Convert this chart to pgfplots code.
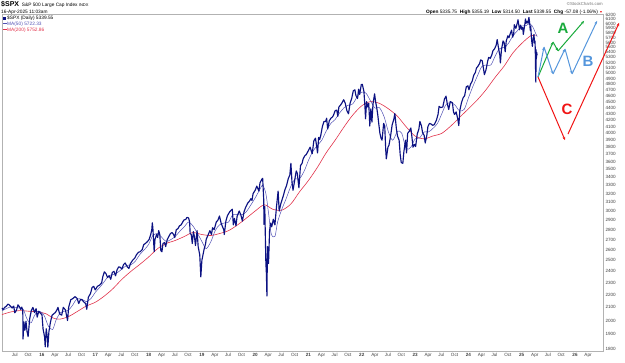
\documentclass[border=0pt]{standalone}
\usepackage{pgfplots}
\pgfplotsset{compat=1.18}
\usepackage{fontspec}
\setmainfont{Liberation Sans}
\usetikzlibrary{arrows.meta}
\definecolor{price}{RGB}{12,18,130}
\definecolor{maf}{RGB}{80,80,180}
\definecolor{mas}{RGB}{225,50,75}
\definecolor{ga}{RGB}{25,170,60}
\definecolor{bb}{RGB}{85,150,220}
\definecolor{rc}{RGB}{240,20,20}
\begin{document}
\begin{tikzpicture}[x=1pt,y=1pt]
\useasboundingbox (0,0) rectangle (625,363);
\begin{axis}[
  at={(2pt,12pt)}, anchor=south west,
  scale only axis, width=601pt, height=337pt,
  ymode=log, clip=false,
  xmin=2015.25, xmax=2026.525,
  ymin=1787, ymax=6223,
  axis line style={draw=gray!60, line width=0.4pt},
  major tick length=0pt,
  /pgf/number format/assume math mode=true,
  ticklabel style={font=\fontsize{4.6}{5}\selectfont, text=black!75},
  yticklabel pos=right,
  yticklabel style={xshift=-1pt},
  xticklabel style={yshift=1.5pt},
  ytick={1800,1900,2000,2100,2200,2300,2400,2500,2600,2700,2800,2900,3000,3100,3200,3300,3400,3500,3600,3700,3800,3900,4000,4100,4200,4300,4400,4500,4600,4700,4800,4900,5000,5100,5200,5300,5400,5500,5600,5700,5800,5900,6000,6100,6200},
  yticklabels={1800,1900,2000,2100,2200,2300,2400,2500,2600,2700,2800,2900,3000,3100,3200,3300,3400,3500,3600,3700,3800,3900,4000,4100,4200,4300,4400,4500,4600,4700,4800,4900,5000,5100,5200,5300,5400,5500,5600,5700,5800,5900,6000,6100,6200},
  xtick={2015.49,2015.74,2016,2016.245,2016.49,2016.74,2017,2017.245,2017.49,2017.74,2018,2018.245,2018.49,2018.74,2019,2019.245,2019.49,2019.74,2020,2020.245,2020.49,2020.74,2021,2021.245,2021.49,2021.74,2022,2022.245,2022.49,2022.74,2023,2023.245,2023.49,2023.74,2024,2024.245,2024.49,2024.74,2025,2025.245,2025.49,2025.74,2026,2026.245},
  xticklabels={Jul,Oct,\textbf{16},Apr,Jul,Oct,\textbf{17},Apr,Jul,Oct,\textbf{18},Apr,Jul,Oct,\textbf{19},Apr,Jul,Oct,\textbf{20},Apr,Jul,Oct,\textbf{21},Apr,Jul,Oct,\textbf{22},Apr,Jul,Oct,\textbf{23},Apr,Jul,Oct,\textbf{24},Apr,Jul,Oct,\textbf{25},Apr,Jul,Oct,\textbf{26},Apr},
]
% MA(200)
\addplot[mas, line width=0.6pt, smooth] coordinates {
(2015.25,2045) (2015.42,2065) (2015.58,2075) (2015.75,2070) (2015.92,2065) (2016.08,2050) (2016.20,2020) (2016.33,2010) (2016.50,2030) (2016.67,2070) (2016.83,2110) (2017.00,2140) (2017.17,2190) (2017.33,2250) (2017.50,2330) (2017.67,2400) (2017.83,2460) (2018.00,2530) (2018.17,2610) (2018.33,2660) (2018.50,2690) (2018.67,2730) (2018.83,2770) (2019.00,2750) (2019.17,2740) (2019.33,2760) (2019.50,2790) (2019.67,2850) (2019.83,2920) (2020.00,3000) (2020.17,3070) (2020.33,3020) (2020.50,3010) (2020.67,3080) (2020.83,3220) (2021.00,3360) (2021.17,3530) (2021.33,3720) (2021.50,3900) (2021.67,4100) (2021.83,4280) (2022.00,4430) (2022.17,4500) (2022.33,4470) (2022.50,4380) (2022.67,4260) (2022.83,4100) (2023.00,3960) (2023.17,3920) (2023.33,3960) (2023.50,4000) (2023.67,4110) (2023.83,4240) (2024.00,4380) (2024.17,4530) (2024.33,4700) (2024.50,4920) (2024.67,5130) (2024.83,5380) (2025.00,5580) (2025.17,5740) (2025.29,5753)
};
% MA(50)
\addplot[maf, line width=0.5pt, smooth] coordinates {
(2015.25,2075) (2015.33,2090) (2015.42,2105) (2015.50,2100) (2015.58,2095) (2015.65,2085) (2015.70,2030) (2015.75,1990) (2015.80,1985) (2015.85,2030) (2015.92,2070) (2016.00,2060) (2016.05,2030) (2016.12,1960) (2016.20,1935) (2016.27,2010) (2016.35,2060) (2016.42,2070) (2016.50,2080) (2016.58,2120) (2016.65,2165) (2016.75,2165) (2016.83,2145) (2016.92,2170) (2017.00,2220) (2017.08,2260) (2017.17,2310) (2017.25,2360) (2017.33,2370) (2017.42,2390) (2017.50,2420) (2017.58,2450) (2017.67,2460) (2017.75,2490) (2017.83,2550) (2017.92,2600) (2018.00,2650) (2018.08,2740) (2018.17,2760) (2018.25,2720) (2018.33,2680) (2018.42,2700) (2018.50,2730) (2018.58,2780) (2018.67,2830) (2018.75,2880) (2018.83,2840) (2018.92,2760) (2019.00,2680) (2019.08,2610) (2019.17,2680) (2019.25,2790) (2019.33,2850) (2019.42,2870) (2019.50,2880) (2019.58,2960) (2019.67,2960) (2019.75,2960) (2019.83,2990) (2019.92,3070) (2020.00,3150) (2020.08,3240) (2020.14,3300) (2020.20,3200) (2020.25,2980) (2020.30,2760) (2020.37,2730) (2020.42,2880) (2020.50,3020) (2020.58,3140) (2020.67,3290) (2020.75,3380) (2020.83,3380) (2020.92,3480) (2021.00,3620) (2021.08,3740) (2021.17,3830) (2021.25,3900) (2021.33,4030) (2021.42,4150) (2021.50,4210) (2021.58,4310) (2021.67,4400) (2021.75,4440) (2021.83,4460) (2021.92,4590) (2022.00,4660) (2022.08,4640) (2022.17,4500) (2022.25,4390) (2022.33,4400) (2022.42,4250) (2022.50,4020) (2022.58,3900) (2022.67,4030) (2022.75,4000) (2022.83,3780) (2022.92,3800) (2023.00,3920) (2023.08,3930) (2023.17,4020) (2023.25,4020) (2023.33,4070) (2023.42,4150) (2023.50,4300) (2023.58,4450) (2023.67,4480) (2023.75,4440) (2023.83,4350) (2023.92,4370) (2024.00,4560) (2024.08,4750) (2024.17,4950) (2024.25,5120) (2024.33,5150) (2024.42,5150) (2024.50,5320) (2024.58,5470) (2024.67,5500) (2024.75,5580) (2024.83,5730) (2024.92,5850) (2025.00,5950) (2025.08,5960) (2025.14,6000) (2025.20,5950) (2025.25,5820) (2025.29,5722)
};
% Price
\addplot[price, line width=1.15pt, line join=round] coordinates {
(2015.25,2095) (2015.27,2082) (2015.30,2100) (2015.33,2108) (2015.36,2125) (2015.38,2122) (2015.41,2108) (2015.44,2095) (2015.47,2110) (2015.49,2058) (2015.52,2077) (2015.55,2120) (2015.58,2103) (2015.60,2085) (2015.62,2102) (2015.64,2075) (2015.645,1868) (2015.66,1990) (2015.68,1930) (2015.70,1995) (2015.72,1920) (2015.74,1885) (2015.77,2015) (2015.80,2075) (2015.83,2100) (2015.86,2060) (2015.89,2090) (2015.91,2025) (2015.94,2070) (2015.97,2055) (2016.00,2044) (2016.02,1940) (2016.05,1880) (2016.06,1815) (2016.08,1940) (2016.10,1880) (2016.11,1812) (2016.13,1920) (2016.16,1990) (2016.19,2040) (2016.22,2050) (2016.25,2060) (2016.28,2080) (2016.30,2100) (2016.33,2050) (2016.37,2040) (2016.40,2100) (2016.44,2080) (2016.48,2000) (2016.50,2100) (2016.54,2160) (2016.58,2170) (2016.62,2185) (2016.66,2170) (2016.69,2130) (2016.72,2160) (2016.75,2160) (2016.79,2140) (2016.82,2130) (2016.84,2085) (2016.87,2180) (2016.91,2210) (2016.94,2260) (2016.97,2270) (2017.00,2240) (2017.04,2270) (2017.08,2280) (2017.12,2300) (2017.14,2350) (2017.17,2395) (2017.20,2380) (2017.23,2345) (2017.26,2360) (2017.29,2330) (2017.32,2390) (2017.35,2400) (2017.38,2360) (2017.41,2415) (2017.44,2440) (2017.47,2435) (2017.50,2420) (2017.53,2460) (2017.56,2475) (2017.60,2440) (2017.63,2425) (2017.66,2470) (2017.70,2500) (2017.74,2520) (2017.77,2550) (2017.81,2575) (2017.84,2580) (2017.88,2600) (2017.91,2650) (2017.94,2660) (2017.98,2680) (2018.01,2700) (2018.04,2750) (2018.06,2800) (2018.07,2872) (2018.08,2820) (2018.105,2581) (2018.12,2700) (2018.15,2750) (2018.17,2720) (2018.19,2790) (2018.21,2750) (2018.23,2590) (2018.25,2580) (2018.27,2660) (2018.30,2670) (2018.32,2630) (2018.35,2700) (2018.38,2730) (2018.41,2760) (2018.44,2770) (2018.47,2750) (2018.49,2720) (2018.52,2800) (2018.55,2810) (2018.58,2840) (2018.61,2850) (2018.64,2880) (2018.66,2900) (2018.70,2910) (2018.72,2930) (2018.75,2925) (2018.77,2880) (2018.78,2760) (2018.80,2750) (2018.82,2660) (2018.84,2780) (2018.86,2730) (2018.88,2640) (2018.91,2790) (2018.93,2630) (2018.96,2550) (2018.98,2351) (2019.00,2500) (2019.04,2600) (2019.07,2660) (2019.08,2700) (2019.12,2750) (2019.15,2790) (2019.18,2750) (2019.20,2820) (2019.23,2800) (2019.27,2880) (2019.30,2900) (2019.33,2945) (2019.36,2870) (2019.38,2840) (2019.41,2800) (2019.42,2750) (2019.45,2890) (2019.48,2950) (2019.52,2990) (2019.55,3010) (2019.57,3020) (2019.59,2850) (2019.61,2920) (2019.64,2840) (2019.66,2940) (2019.70,3000) (2019.73,2960) (2019.76,2890) (2019.79,2990) (2019.82,3040) (2019.86,3090) (2019.89,3110) (2019.92,3140) (2019.94,3120) (2019.96,3200) (2020.00,3240) (2020.03,3290) (2020.07,3230) (2020.09,3330) (2020.13,3380) (2020.14,3386) (2020.16,3130) (2020.165,2855) (2020.18,3050) (2020.19,2740) (2020.20,2480) (2020.21,2380) (2020.22,2190) (2020.23,2630) (2020.25,2470) (2020.27,2790) (2020.29,2870) (2020.31,2830) (2020.34,2910) (2020.37,2850) (2020.40,3050) (2020.43,3230) (2020.45,3000) (2020.48,3080) (2020.50,3120) (2020.53,3180) (2020.56,3250) (2020.59,3300) (2020.62,3380) (2020.65,3430) (2020.67,3580) (2020.69,3340) (2020.71,3240) (2020.74,3360) (2020.77,3480) (2020.79,3450) (2020.82,3270) (2020.85,3550) (2020.88,3580) (2020.90,3640) (2020.93,3680) (2020.96,3700) (2021.00,3756) (2021.03,3800) (2021.07,3710) (2021.10,3890) (2021.13,3930) (2021.15,3830) (2021.17,3720) (2021.19,3940) (2021.21,3910) (2021.23,3970) (2021.26,4100) (2021.29,4180) (2021.32,4180) (2021.34,4230) (2021.36,4065) (2021.39,4190) (2021.42,4230) (2021.45,4250) (2021.47,4280) (2021.50,4350) (2021.53,4360) (2021.55,4260) (2021.57,4410) (2021.60,4440) (2021.63,4480) (2021.66,4530) (2021.69,4470) (2021.72,4350) (2021.75,4300) (2021.78,4470) (2021.81,4550) (2021.84,4680) (2021.87,4700) (2021.89,4600) (2021.92,4550) (2021.94,4710) (2021.96,4620) (2021.99,4790) (2022.01,4796) (2022.04,4670) (2022.06,4400) (2022.07,4220) (2022.09,4500) (2022.11,4410) (2022.13,4470) (2022.14,4300) (2022.15,4110) (2022.17,4380) (2022.19,4170) (2022.21,4460) (2022.24,4630) (2022.26,4490) (2022.28,4400) (2022.30,4280) (2022.32,4130) (2022.34,4000) (2022.36,3930) (2022.38,3900) (2022.41,4150) (2022.43,4110) (2022.45,3750) (2022.46,3640) (2022.49,3800) (2022.51,3830) (2022.54,3960) (2022.57,4130) (2022.60,4210) (2022.62,4305) (2022.65,4060) (2022.67,3960) (2022.70,3900) (2022.72,3700) (2022.74,3590) (2022.77,3580) (2022.79,3740) (2022.82,3900) (2022.84,3720) (2022.86,4000) (2022.89,4030) (2022.92,4080) (2022.94,3950) (2022.96,3800) (2022.99,3840) (2023.01,3810) (2023.04,3990) (2023.07,4060) (2023.09,4180) (2023.12,4110) (2023.14,4010) (2023.17,3970) (2023.19,3860) (2023.22,3970) (2023.24,4100) (2023.27,4150) (2023.30,4140) (2023.33,4120) (2023.36,4130) (2023.40,4200) (2023.43,4290) (2023.45,4420) (2023.48,4400) (2023.52,4410) (2023.55,4540) (2023.58,4590) (2023.60,4480) (2023.63,4370) (2023.66,4500) (2023.70,4480) (2023.72,4330) (2023.74,4290) (2023.77,4330) (2023.80,4220) (2023.82,4117) (2023.84,4360) (2023.87,4480) (2023.90,4560) (2023.93,4600) (2023.96,4750) (2023.99,4770) (2024.01,4700) (2024.04,4800) (2024.07,4850) (2024.10,4960) (2024.13,5010) (2024.15,5090) (2024.18,5130) (2024.21,5180) (2024.23,5250) (2024.26,5230) (2024.28,5100) (2024.30,4970) (2024.33,5060) (2024.36,5220) (2024.38,5300) (2024.41,5280) (2024.44,5350) (2024.46,5430) (2024.49,5470) (2024.52,5540) (2024.54,5660) (2024.57,5450) (2024.59,5340) (2024.60,5190) (2024.62,5450) (2024.65,5630) (2024.67,5600) (2024.69,5410) (2024.71,5630) (2024.74,5740) (2024.76,5700) (2024.79,5800) (2024.81,5860) (2024.83,5710) (2024.85,5780) (2024.86,5980) (2024.89,5900) (2024.92,6030) (2024.93,6090) (2024.96,5870) (2024.98,5970) (2025.00,5880) (2025.02,5920) (2025.03,5770) (2025.06,6000) (2025.07,6110) (2025.08,6010) (2025.10,6060) (2025.12,6010) (2025.13,6110) (2025.135,6144) (2025.15,6010) (2025.16,5860) (2025.17,5950) (2025.18,5740) (2025.19,5610) (2025.20,5520) (2025.21,5640) (2025.23,5770) (2025.24,5590) (2025.25,5630) (2025.255,5400) (2025.26,5070) (2025.265,4835) (2025.27,5450) (2025.275,5270) (2025.28,5400) (2025.29,5340)
};
% Scenario A
\addplot[ga, line width=1pt, -{Stealth[length=3.2pt,width=2.8pt]}] coordinates {(2025.306,4928) (2025.587,5610)};
\addplot[ga, line width=1pt, -{Stealth[length=3.2pt,width=2.8pt]}] coordinates {(2025.587,5610) (2025.681,5426)};
\addplot[ga, line width=1pt, -{Stealth[length=3.2pt,width=2.8pt]}] coordinates {(2025.681,5426) (2026.169,6064)};
% Scenario B
\addplot[bb, line width=1pt, -{Stealth[length=3.2pt,width=2.8pt]}] coordinates {(2025.306,4928) (2025.418,5507)};
\addplot[bb, line width=1pt, -{Stealth[length=3.2pt,width=2.8pt]}] coordinates {(2025.418,5507) (2025.587,4983)};
\addplot[bb, line width=1pt, -{Stealth[length=3.2pt,width=2.8pt]}] coordinates {(2025.587,4983) (2025.812,5467)};
\addplot[bb, line width=1pt, -{Stealth[length=3.2pt,width=2.8pt]}] coordinates {(2025.812,5467) (2025.944,4983)};
\addplot[bb, line width=1pt, -{Stealth[length=3.2pt,width=2.8pt]}] coordinates {(2025.944,4983) (2026.413,6064)};
% Scenario C
\addplot[rc, line width=1pt, -{Stealth[length=3.2pt,width=2.8pt]}] coordinates {(2025.306,4928) (2025.812,3902)};
\addplot[rc, line width=1pt, -{Stealth[length=3.2pt,width=2.8pt]}] coordinates {(2025.868,3990) (2026.826,6019)};
\node[text=ga, font=\fontsize{15}{15}\selectfont\bfseries] at (axis cs:2025.775,5909) {A};
\node[text=bb, font=\fontsize{15}{15}\selectfont\bfseries] at (axis cs:2026.244,5229) {B};
\node[text=rc, font=\fontsize{15}{15}\selectfont\bfseries] at (axis cs:2025.85,4378) {C};
\end{axis}
% header
\node[anchor=base west, inner sep=0pt] at (1,356) {{\fontsize{7}{7}\selectfont\bfseries \$SPX}\ {\fontsize{4.8}{5}\selectfont S\&P 500 Large Cap Index {\fontsize{4}{4}\selectfont INDX}}};
\node[anchor=base west, inner sep=0pt, font=\fontsize{4.8}{5}\selectfont] at (1,349.5) {16-Apr-2025 11:03am};
\node[anchor=base east, inner sep=0pt, font=\fontsize{4.3}{5}\selectfont, text=black!55] at (603,357) {\textcopyright StockCharts.com};
\node[anchor=base east, inner sep=0pt, font=\fontsize{4.8}{5}\selectfont] at (603,349.5) {\textbf{Open} 5335.75 \ \textbf{High} 5355.19 \ \textbf{Low} 5314.50 \ \textbf{Last} 5339.55 \ \textbf{Chg} -57.08 (-1.06\%) {\color{rc}\fontsize{3.5}{4}\selectfont ▼}};
% legend
\fill[price] (3,343.2) rectangle (6,346.2);
\node[anchor=base west, inner sep=0pt, font=\fontsize{4.8}{5}\selectfont] at (7,343.5) {\$SPX (Daily) 5339.55};
\draw[maf, line width=0.8pt] (3,339.2) -- (7,339.2);
\node[anchor=base west, inner sep=0pt, font=\fontsize{4.8}{5}\selectfont, text=maf] at (7,337.5) {MA(50) 5722.33};
\draw[mas, line width=0.8pt] (3,333.2) -- (7,333.2);
\node[anchor=base west, inner sep=0pt, font=\fontsize{4.8}{5}\selectfont, text=mas] at (7,331.5) {MA(200) 5752.86};
\end{tikzpicture}
\end{document}
